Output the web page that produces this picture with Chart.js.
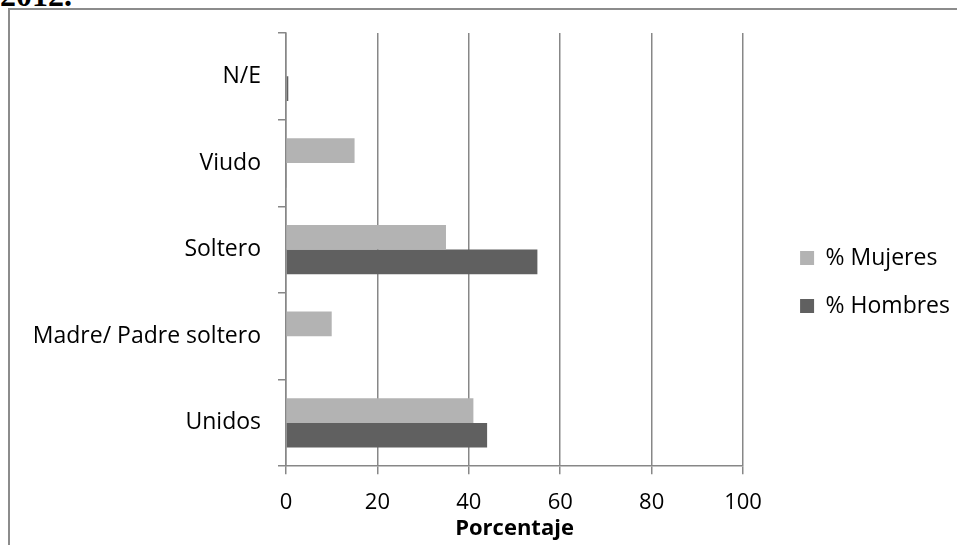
<!DOCTYPE html>
<html>
<head>
<meta charset="utf-8">
<script src="https://cdn.jsdelivr.net/npm/chart.js@4/dist/chart.umd.min.js"></script>
<style>
  html, body { margin: 0; padding: 0; background: #fff; overflow: hidden; }
  .caption {
    position: absolute; left: 0; top: -23px;
    font: bold 32px "Liberation Serif", serif; color: #000;
  }
  .frame {
    position: absolute; left: 8px; top: 8px; width: 947px; height: 535px;
    border-left: 2px solid #8c8c8c; border-top: 2px solid #8c8c8c;
    background: #fff;
  }
  .frame canvas { display: block; }
</style>
</head>
<body>
<div class="caption">2012.</div>
<div class="frame"><canvas id="chart" width="947" height="535"></canvas></div>
<script>
const categories = ["N/E", "Viudo", "Soltero", "Madre/ Padre soltero", "Unidos"];
const mujeres = [0, 15, 35, 10, 41];
const hombres = [0.5, 0.2, 55, 0, 44];
const xTicks = [0, 20, 40, 60, 80, 100];

const font = "'Open Sans', sans-serif";
const axisGray = "#878787";

new Chart(document.getElementById("chart"), {
  type: "bar",
  data: {
    labels: categories,
    datasets: [
      {
        label: "% Mujeres",
        data: mujeres,
        backgroundColor: "#b3b3b3",
        borderWidth: 0,
      },
      {
        label: "% Hombres",
        data: hombres,
        backgroundColor: "#606060",
        borderWidth: 0,
      },
    ],
  },
  options: {
    indexAxis: "y",
    responsive: false,
    animation: false,
    categoryPercentage: 0.57,
    barPercentage: 1.0,
    layout: {
      padding: { top: 10, right: -3, bottom: 1, left: 0 },
    },
    plugins: {
      legend: {
        position: "right",
        maxWidth: 260,
        labels: {
          boxWidth: 14,
          boxHeight: 14,
          padding: 25,
          color: "#000",
          font: { family: font, size: 23 },
        },
      },
      tooltip: { enabled: false },
    },
    scales: {
      x: {
        min: 0,
        max: 100,
        afterBuildTicks: (scale) => {
          scale.ticks = xTicks.map((v) => ({ value: v }));
        },
        grid: {
          color: axisGray,
          lineWidth: 1.5,
          tickLength: 8,
        },
        border: { color: axisGray, width: 1.5 },
        ticks: {
          color: "#000",
          padding: 15,
          font: { family: font, size: 22 },
        },
        title: {
          display: true,
          text: "Porcentaje",
          color: "#000",
          padding: { top: -15, bottom: 2 },
          font: { family: font, size: 22, weight: "bold" },
        },
      },
      y: {
        grid: {
          drawOnChartArea: false,
          color: axisGray,
          lineWidth: 1.5,
          tickLength: 8,
          offset: true,
        },
        border: { color: axisGray, width: 1.5 },
        ticks: {
          color: "#000",
          padding: 17,
          font: { family: font, size: 23 },
        },
        afterFit: (scale) => {
          scale.width = 276;
          scale.paddingTop = 23;
          scale.paddingBottom = 0;
        },
      },
      // empty right-hand axis that only keeps the gap between plot and legend
      gap: {
        type: "category",
        position: "right",
        grid: { display: false },
        border: { display: false },
        ticks: { display: false },
        afterFit: (scale) => {
          scale.width = 32;
        },
      },
    },
  },
});
</script>
</body>
</html>
